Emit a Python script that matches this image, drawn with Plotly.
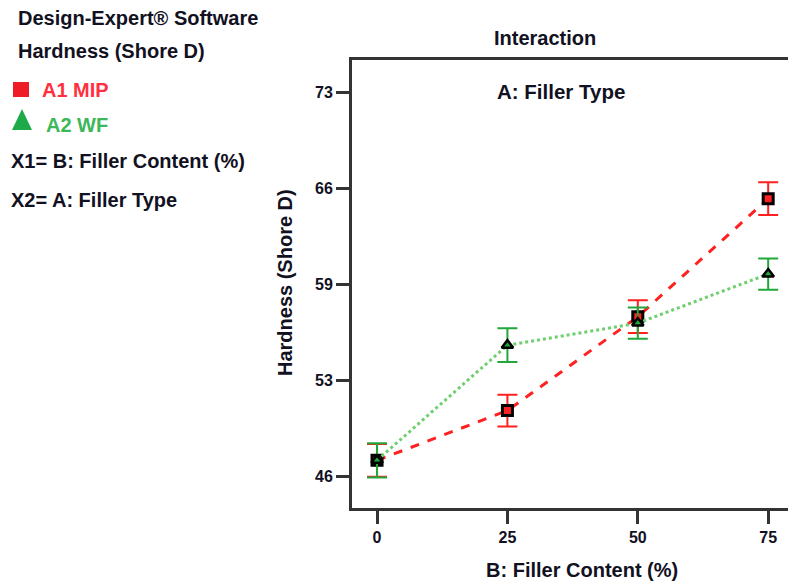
import plotly.graph_objects as go

filler_content = [0, 25, 50, 75]
mip_hardness = [47.1, 50.6, 57.2, 65.5]
mip_err = [1.15, 1.12, 1.15, 1.15]
wf_hardness = [47.1, 55.2, 56.75, 60.2]
wf_err = [1.2, 1.18, 1.1, 1.1]

y_tickvals = [46, 52.75, 59.5, 66.25, 73]
y_ticktext = ["46", "53", "59", "66", "73"]
x_tickvals = [0, 25, 50, 75]

FONT = "Liberation Sans, Arial, sans-serif"
RED = "#ff2020"
GREEN = "#22a83a"
LGREEN = "#6fcf6f"
INK = "#111122"

fig = go.Figure()
fig.add_trace(go.Scatter(
    x=filler_content, y=mip_hardness, mode="lines+markers", name="A1 MIP",
    line=dict(color=RED, width=3, dash="dash"),
    marker=dict(symbol="square", size=10, color=RED, line=dict(color="black", width=3)),
    error_y=dict(type="data", array=mip_err, visible=True, color=RED, thickness=2, width=10),
))
fig.add_trace(go.Scatter(
    x=filler_content, y=wf_hardness, mode="lines+markers", name="A2 WF",
    line=dict(color=LGREEN, width=3, dash="dot"),
    marker=dict(symbol="triangle-up", size=10, color=GREEN, line=dict(color="black", width=2.5)),
    error_y=dict(type="data", array=wf_err, visible=True, color=GREEN, thickness=2, width=10),
))

fig.update_layout(
    width=788, height=584,
    margin=dict(l=352, r=0, t=60, b=76),
    paper_bgcolor="white", plot_bgcolor="white",
    showlegend=False,
    font=dict(family=FONT, color=INK),
    xaxis=dict(
        range=[-4.8, 78.8], tickvals=x_tickvals, ticks="outside", ticklen=13, tickwidth=2.5,
        tickcolor="#333333", showline=True, linecolor="#333333", linewidth=3, mirror=True,
        showgrid=False, zeroline=False, automargin=False,
        tickfont=dict(family=FONT, size=16, color=INK, weight="bold"),
    ),
    yaxis=dict(
        range=[43.75, 75.25], tickvals=y_tickvals, ticktext=y_ticktext, ticks="outside",
        ticklen=13, tickwidth=2.5, tickcolor="#333333", showline=True, linecolor="#333333",
        linewidth=3, mirror=False, showgrid=False, zeroline=False, automargin=False,
        tickfont=dict(family=FONT, size=16, color=INK, weight="bold"),
    ),
)

# convert pixel coords to paper coords
W0, W1 = 352, 788
H0, H1 = 60, 508
def px(x):
    return (x - W0) / (W1 - W0)
def py(y):
    return (H1 - y) / (H1 - H0)

def txt(x, y, s, size=20, color=INK, xanchor="left", angle=0):
    fig.add_annotation(x=px(x), y=py(y), xref="paper", yref="paper", text=s, showarrow=False,
                       xanchor=xanchor, yanchor="middle", textangle=angle,
                       font=dict(family=FONT, size=size, color=color))

txt(16, 18, "<b>Design-Expert® Software</b>")
txt(16, 51, "<b>Hardness (Shore D)</b>")
txt(40, 90, "<b>A1 MIP</b>", color="#ff3040")
txt(44, 125, "<b>A2 WF</b>", color="#3cb85a")
txt(9, 161, "<b>X1= B: Filler Content (%)</b>")
txt(9, 200, "<b>X2= A: Filler Type</b>")
txt(545, 38, "<b>Interaction</b>", xanchor="center")
txt(561, 91, "<b>A: Filler Type</b>", size=20.5, xanchor="center")
txt(582, 570, "<b>B: Filler Content (%)</b>", xanchor="center")
txt(285, 283, "<b>Hardness (Shore D)</b>", xanchor="center", angle=-90)

# legend glyphs (drawn as shapes in pixel-derived paper coords)
fig.add_shape(type="rect", xref="paper", yref="paper",
              x0=px(13), x1=px(29), y0=py(97), y1=py(82),
              fillcolor="#ee1c24", line=dict(width=0))
fig.add_shape(type="path", xref="paper", yref="paper",
              path=f"M {px(12)} {py(130)} L {px(32)} {py(130)} L {px(22)} {py(109)} Z",
              fillcolor="#1faa4a", line=dict(width=0))

fig.write_html("out.html", config={"displayModeBar": False},
               post_script="document.body.style.margin='0px';document.body.style.overflow='hidden';")
